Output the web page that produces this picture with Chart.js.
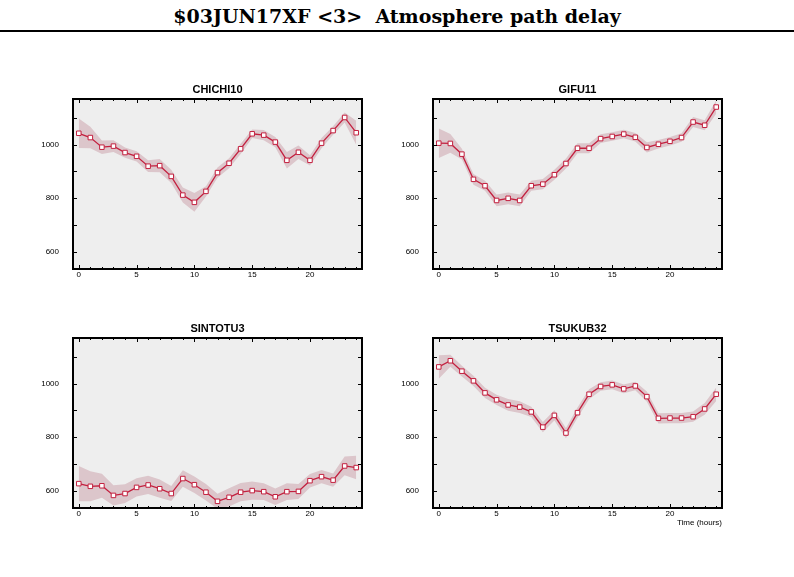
<!DOCTYPE html>
<html>
<head>
<meta charset="utf-8">
<script src="https://cdn.jsdelivr.net/npm/chart.js@4.4.1/dist/chart.umd.min.js"></script>
<style>
body { margin: 0; background: #fff; width: 794px; height: 577px; position: relative; overflow: hidden; }
#title { position: absolute; left: 0; width: 794px; top: 5px; text-align: center; font: bold 19px "DejaVu Serif"; color: #000; white-space: pre; }
#rule { position: absolute; left: 0; top: 30px; width: 794px; height: 2px; background: #000; }
canvas { position: absolute; }
</style>
</head>
<body>
<div id="title">$03JUN17XF &lt;3&gt;  Atmosphere path delay</div>
<div id="rule"></div>
<canvas id="c0" width="350" height="221" style="left:20px;top:78px"></canvas>
<canvas id="c1" width="350" height="221" style="left:380px;top:78px"></canvas>
<canvas id="c2" width="350" height="221" style="left:20px;top:317px"></canvas>
<canvas id="c3" width="350" height="221" style="left:380px;top:317px"></canvas>
<script>
// hours of the day
const hours = [0, 1, 2, 3, 4, 5, 6, 7, 8, 9, 10, 11, 12, 13, 14, 15, 16, 17, 18, 19, 20, 21, 22, 23, 24];
const yTickValues = [600, 700, 800, 900, 1000, 1100];

const stations = ["CHICHI10", "GIFU11", "SINTOTU3", "TSUKUB32"];

const chichi10 = [1042, 1026, 990, 994, 970, 956, 919, 921, 881, 811, 784, 825, 895, 930, 984, 1040, 1035, 1009, 941, 971, 941, 1005, 1052, 1101, 1044];
const chichi10Err = [55, 40, 25, 22, 19, 19, 22, 25, 25, 28, 35, 19, 19, 19, 19, 16, 19, 19, 31, 25, 19, 19, 16, 19, 45];

const gifu11 = [1005, 1004, 964, 870, 846, 791, 799, 791, 846, 852, 887, 929, 986, 986, 1022, 1030, 1039, 1027, 989, 1001, 1012, 1026, 1084, 1072, 1140];
const gifu11Err = [55, 35, 20, 20, 19, 22, 22, 22, 19, 19, 19, 19, 19, 19, 16, 16, 16, 16, 19, 16, 16, 16, 19, 19, 25];

const sintotu3 = [626, 616, 618, 582, 589, 612, 621, 607, 589, 645, 622, 594, 560, 575, 594, 600, 596, 577, 596, 597, 637, 652, 639, 692, 686];
const sintotu3Err = [66, 56, 45, 38, 35, 34, 34, 34, 28, 31, 31, 31, 28, 34, 34, 34, 31, 31, 31, 28, 25, 25, 25, 35, 44];

const tsukub32 = [1062, 1085, 1046, 1010, 965, 939, 920, 912, 894, 837, 881, 815, 891, 960, 989, 995, 980, 991, 951, 870, 871, 871, 876, 905, 960];
const tsukub32Err = [44, 22, 20, 19, 19, 19, 22, 22, 19, 19, 19, 19, 19, 19, 16, 16, 16, 16, 19, 19, 19, 19, 19, 22, 25];

const lineColor = "#c3203f";
const bandColor = "#dcc6cb";

function makeChart(canvasId, name, values, errs, showTimeLabel) {
    // background, frame, inside ticks and station name
    const framePlugin = {
        id: 'frame',
        beforeDraw(chart) {
            const a = chart.chartArea, ctx = chart.ctx;
            ctx.save();
            ctx.fillStyle = '#eeeeee';
            ctx.fillRect(a.left, a.top, a.right - a.left, a.bottom - a.top);
            ctx.restore();
        },
        afterDraw(chart) {
            const a = chart.chartArea, ctx = chart.ctx;
            const xs = chart.scales.x, ys = chart.scales.y;
            ctx.save();
            ctx.strokeStyle = '#000';
            ctx.lineWidth = 1;
            ctx.beginPath();
            xs.ticks.forEach(t => {
                const px = Math.round(xs.getPixelForValue(t.value)) + 0.5;
                const len = t.value % 5 === 0 ? 4 : 2;
                ctx.moveTo(px, a.bottom); ctx.lineTo(px, a.bottom - len);
                ctx.moveTo(px, a.top); ctx.lineTo(px, a.top + len);
            });
            ys.ticks.forEach(t => {
                const py = Math.round(ys.getPixelForValue(t.value)) + 0.5;
                ctx.moveTo(a.left, py); ctx.lineTo(a.left + 4, py);
                ctx.moveTo(a.right, py); ctx.lineTo(a.right - 4, py);
            });
            ctx.stroke();
            ctx.lineWidth = 2;
            ctx.strokeRect(a.left, a.top, a.right - a.left, a.bottom - a.top);

            ctx.fillStyle = '#000';
            ctx.font = 'bold 11px "Liberation Sans"';
            ctx.textAlign = 'center';
            ctx.textBaseline = 'alphabetic';
            ctx.fillText(name, (a.left + a.right) / 2, a.top - 6);
            if (showTimeLabel) {
                ctx.font = '8px "Liberation Sans"';
                ctx.textAlign = 'right';
                ctx.fillText('Time (hours)', a.right, a.bottom + 17);
            }
            ctx.restore();
        }
    };

    const upper = hours.map((h, i) => ({ x: h, y: values[i] + errs[i] }));
    const lower = hours.map((h, i) => ({ x: h, y: values[i] - errs[i] }));
    const main = hours.map((h, i) => ({ x: h, y: values[i] }));

    return new Chart(document.getElementById(canvasId), {
        type: 'line',
        data: {
            datasets: [
                {
                    data: main,
                    borderColor: lineColor,
                    borderWidth: 1.3,
                    pointStyle: 'rect',
                    pointRadius: 3.2,
                    pointBackgroundColor: '#ffffff',
                    pointBorderColor: lineColor,
                    pointBorderWidth: 1,
                    tension: 0,
                    fill: false
                },
                {
                    data: upper,
                    borderWidth: 0,
                    pointRadius: 0,
                    fill: false
                },
                {
                    data: lower,
                    borderWidth: 0,
                    pointRadius: 0,
                    backgroundColor: bandColor,
                    fill: '-1'
                }
            ]
        },
        options: {
            responsive: false,
            animation: false,
            devicePixelRatio: 1,
            layout: { padding: { left: 0, right: 8, top: 21, bottom: 0 } },
            plugins: { legend: { display: false }, tooltip: { enabled: false } },
            scales: {
                x: {
                    type: 'linear',
                    min: -0.5,
                    max: 24.5,
                    grid: { display: false },
                    border: { display: false },
                    afterBuildTicks: scale => { scale.ticks = hours.map(v => ({ value: v })); },
                    afterFit: scale => { scale.height = 30; },
                    ticks: {
                        autoSkip: false,
                        maxRotation: 0,
                        padding: -7,
                        color: '#000',
                        font: { family: 'Liberation Sans', size: 8 },
                        callback: v => (v % 5 === 0 ? String(v) : '')
                    }
                },
                y: {
                    min: 535,
                    max: 1170,
                    grid: { display: false },
                    border: { display: false },
                    afterBuildTicks: scale => { scale.ticks = yTickValues.map(v => ({ value: v })); },
                    afterFit: scale => { scale.width = 53; },
                    ticks: {
                        autoSkip: false,
                        padding: 6,
                        color: '#000',
                        font: { family: 'Liberation Sans', size: 8 },
                        callback: v => (v % 200 === 0 ? String(v) : '')
                    }
                }
            }
        },
        plugins: [framePlugin]
    });
}

makeChart('c0', stations[0], chichi10, chichi10Err, false);
makeChart('c1', stations[1], gifu11, gifu11Err, false);
makeChart('c2', stations[2], sintotu3, sintotu3Err, false);
makeChart('c3', stations[3], tsukub32, tsukub32Err, true);
</script>
</body>
</html>
